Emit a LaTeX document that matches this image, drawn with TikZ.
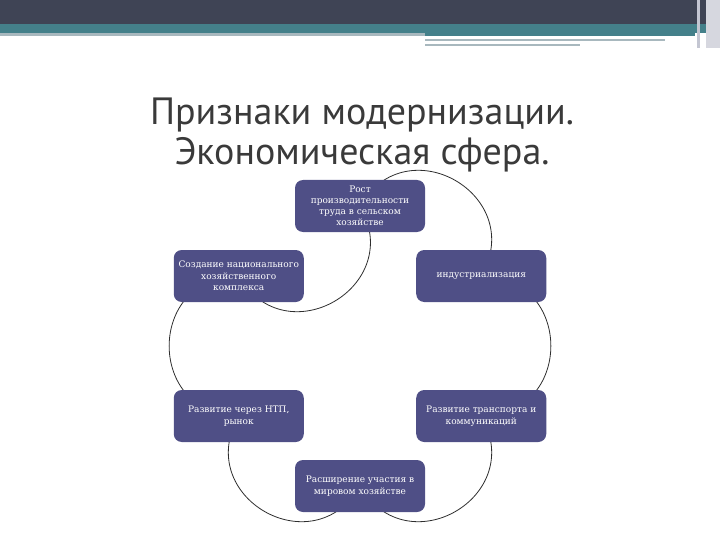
\documentclass[tikz,border=0pt]{standalone}
\usepackage{fontspec}
\setmainfont{DejaVu Serif}
\newfontfamily\titlefont{PT Sans}
\usetikzlibrary{backgrounds}
\definecolor{my_darkslate}{HTML}{3F4455}
\definecolor{my_teal}{HTML}{44808A}
\definecolor{my_paleteal}{HTML}{A8B8BE}
\definecolor{my_sidegray}{HTML}{C4C6D2}
\definecolor{my_boxblue}{HTML}{4F4F86}
\definecolor{my_title}{HTML}{3A3A3A}
\definecolor{my_line}{HTML}{2E2E2E}

\begin{document}
\begin{tikzpicture}[
    x=1pt, y=1pt,
    box/.style={fill=my_boxblue, rounded corners=8pt, minimum width=130pt,
        minimum height=52pt, inner sep=0pt, text=white, align=center,
        font=\fontsize{9}{11.6}\selectfont},
    tallbox/.style={box, font=\fontsize{9}{11}\selectfont},
    petal/.style={my_line, line width=0.8pt, bend left=90, looseness=1.7},
    headline/.style={font=\titlefont\fontsize{38}{43}\selectfont, text=my_title, anchor=base}
]
\useasboundingbox (0,0) rectangle (720,-540);

% Header band (slide template)
\fill[my_darkslate] (0,0) rectangle (720,-24);
\fill[my_teal] (0,-24) rectangle (720,-33);
\fill[my_paleteal] (0,-33) rectangle (425,-36);
\fill[my_teal] (425,-33) rectangle (695,-36);
\fill[my_paleteal] (425,-39) rectangle (665,-41);
\fill[my_paleteal] (425,-44) rectangle (580,-46);
\fill[my_sidegray] (697,0) rectangle (700,-48);
\fill[my_sidegray!70] (706,0) rectangle (720,-48);

% Title, two lines
\node[headline] (title1) at (362,-125) {Признаки модернизации.};
\node[headline] (title2) at (362,-165) {Экономическая сфера.};

% Six boxes on a circle of radius 140 round (360,-346)
\begin{scope}[shift={(360,-346)}]
\node[tallbox] (rost) at (90:140) {Рост\\производительности\\труда в сельском\\хозяйстве};
\node[box] (indus)  at (30:140)   {индустриализация};
\node[box] (transp) at (-30:140)  {Развитие транспорта и\\коммуникаций};
\node[box] (rasch)  at (-90:140)  {Расширение участия в\\мировом хозяйстве};
\node[box] (ntp)    at (-150:140) {Развитие через НТП,\\рынок};
\node[box] (sozd)   at (150:140)  {Создание национального\\хозяйственного\\комплекса};
\end{scope}

% Half circles between neighbouring boxes, behind them
\begin{scope}[on background layer]
\draw[petal] (rost.center) to (indus.center);
\draw[petal] (indus.center) to (transp.center);
\draw[petal] (transp.center) to (rasch.center);
\draw[petal] (rasch.center) to (ntp.center);
\draw[petal] (ntp.center) to (sozd.center);
\draw[petal] (rost.center) to (sozd.center); % this one bends inward
\end{scope}

\end{tikzpicture}
\end{document}
